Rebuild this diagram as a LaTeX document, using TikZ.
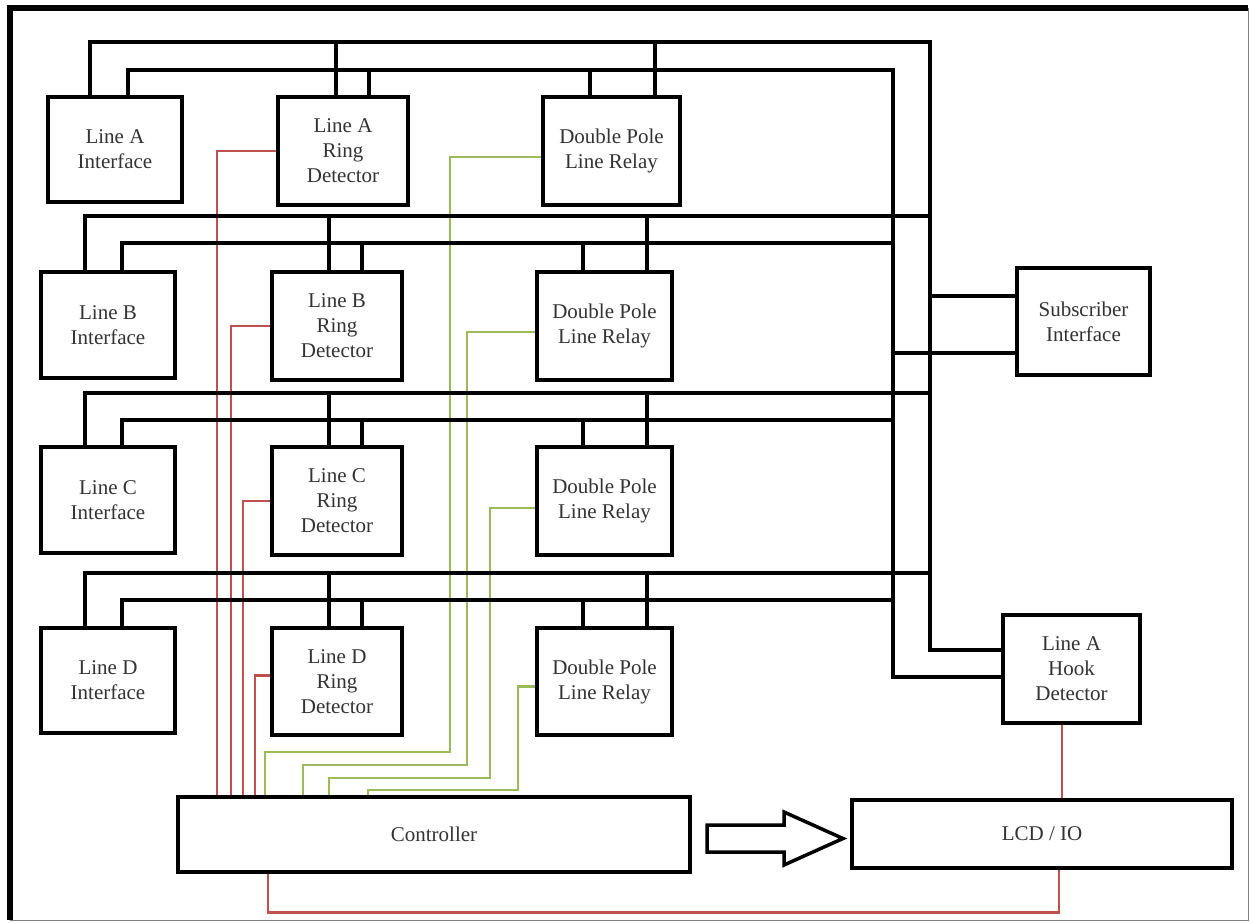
\documentclass[tikz,border=0pt]{standalone}
\usepackage{fontspec}
\setmainfont{Liberation Serif}
\definecolor{wred}{HTML}{C0504D}
\definecolor{wgrn}{HTML}{9BBB59}
\definecolor{txt}{HTML}{333333}
\pgfdeclarelayer{back}
\pgfdeclarelayer{wires}
\pgfsetlayers{back,wires,main}
\begin{document}
\begin{tikzpicture}[x=1pt,y=-1pt,
  box/.style={draw=black,line width=4.5pt,fill=white,align=center,inner sep=0pt,
    font=\fontsize{21}{25}\selectfont,text=txt},
  bus/.style={line width=4pt,draw=black},
  redw/.style={line width=2.8pt,draw=wred},
  grnw/.style={line width=2.8pt,draw=wgrn}]
\useasboundingbox (0,0) rectangle (1250,922);
\begin{pgfonlayer}{back}
\fill[white] (0,0) rectangle (1250,922);
\end{pgfonlayer}

% ---------- boxes ----------
\node[box,minimum width=134pt,minimum height=105pt] (ia) at (115,149.5) {Line A\\Interface};
\node[box,minimum width=130pt,minimum height=108pt] (ra) at (343,151) {Line A\\Ring\\Detector};
\node[box,minimum width=137pt,minimum height=108pt] (pa) at (611.5,151) {Double Pole\\Line Relay};

\node[box,minimum width=134pt,minimum height=106pt] (ib) at (108,325) {Line B\\Interface};
\node[box,minimum width=130pt,minimum height=108pt] (rb) at (337,326) {Line B\\Ring\\Detector};
\node[box,minimum width=135pt,minimum height=108pt] (pb) at (604.5,326) {Double Pole\\Line Relay};

\node[box,minimum width=134pt,minimum height=106pt] (ic) at (108,500) {Line C\\Interface};
\node[box,minimum width=130pt,minimum height=108pt] (rc) at (337,501) {Line C\\Ring\\Detector};
\node[box,minimum width=135pt,minimum height=108pt] (pc) at (604.5,501) {Double Pole\\Line Relay};

\node[box,minimum width=134pt,minimum height=105pt] (id) at (108,680.5) {Line D\\Interface};
\node[box,minimum width=130pt,minimum height=107pt] (rd) at (337,681.5) {Line D\\Ring\\Detector};
\node[box,minimum width=135pt,minimum height=107pt] (pd) at (604.5,681.5) {Double Pole\\Line Relay};

\node[box,minimum width=133pt,minimum height=107pt] (sub) at (1083.5,321.5) {Subscriber\\Interface};
\node[box,minimum width=137pt,minimum height=108pt] (hook) at (1071.5,669) {Line A\\Hook\\Detector};

\node[box,minimum width=512pt,minimum height=75pt] (ctrl) at (434,834.5) {Controller};
\node[box,minimum width=380pt,minimum height=68pt] (lcd) at (1042,834) {LCD / IO};

% hollow block arrow
\draw[line width=3.5pt,fill=white,line join=miter]
  (707,825) -- (784,825) -- (784,812) -- (843,838.5) -- (784,865) -- (784,852) -- (707,852) -- cycle;

% ---------- wires ----------
\begin{pgfonlayer}{wires}
% red control lines
\draw[redw] (ra.west) -| (217,797);
\draw[redw] (rb.west) -| (231,797);
\draw[redw] (rc.west) -| (243,797);
\draw[redw] ([yshift=6pt]rd.west) -| (255,797);
% green control lines
\draw[grnw] ([yshift=-6pt]pa.west) -| (450,752) -| (265,797);
\draw[grnw] ([yshift=-6pt]pb.west) -| (467,765) -| (303,797);
\draw[grnw] ([yshift=-7pt]pc.west) -| (490,778) -| (329,797);
\draw[grnw] ([yshift=-5pt]pd.west) -| (518,790) -| (368,797);
% hook detector / LCD / controller
\draw[redw] ([xshift=-9.5pt]hook.south) -- ([xshift=20pt]lcd.north);
\draw[redw] ([xshift=17pt]lcd.south) -- ++(0,42) -| ([xshift=-166pt]ctrl.south);

% black buses
\coordinate (a1) at (930,42);
\coordinate (a2) at (893,70);
\draw[bus] ([xshift=-25pt]ia.north) |- (a1) |- ([yshift=19pt]hook.west);
\draw[bus] ([xshift=13pt]ia.north) |- (a2) |- ([yshift=-8pt]hook.west);
\draw[bus] ([xshift=-7pt]ra.north) -- ++(0,-55);
\draw[bus] ([xshift=26pt]ra.north) -- ++(0,-27);
\draw[bus] ([xshift=-21.5pt]pa.north) -- ++(0,-27);
\draw[bus] ([xshift=43.5pt]pa.north) -- ++(0,-55);

\coordinate (b1) at (930,216);
\coordinate (b2) at (893,243);
\draw[bus] ([xshift=-23pt]ib.north) |- (b1);
\draw[bus] ([xshift=14pt]ib.north) |- (b2);
\draw[bus] ([xshift=-8pt]rb.north) -- ++(0,-56);
\draw[bus] ([xshift=25pt]rb.north) -- ++(0,-29);
\draw[bus] ([xshift=-21.5pt]pb.north) -- ++(0,-29);
\draw[bus] ([xshift=42.5pt]pb.north) -- ++(0,-56);

\coordinate (c1) at (930,393);
\coordinate (c2) at (893,420);
\draw[bus] ([xshift=-23pt]ic.north) |- (c1);
\draw[bus] ([xshift=14pt]ic.north) |- (c2);
\draw[bus] ([xshift=-8pt]rc.north) -- ++(0,-54);
\draw[bus] ([xshift=25pt]rc.north) -- ++(0,-27);
\draw[bus] ([xshift=-21.5pt]pc.north) -- ++(0,-27);
\draw[bus] ([xshift=42.5pt]pc.north) -- ++(0,-54);

\coordinate (d1) at (930,573);
\coordinate (d2) at (893,600);
\draw[bus] ([xshift=-23pt]id.north) |- (d1);
\draw[bus] ([xshift=14pt]id.north) |- (d2);
\draw[bus] ([xshift=-8pt]rd.north) -- ++(0,-55);
\draw[bus] ([xshift=25pt]rd.north) -- ++(0,-28);
\draw[bus] ([xshift=-21.5pt]pd.north) -- ++(0,-28);
\draw[bus] ([xshift=42.5pt]pd.north) -- ++(0,-55);

% subscriber interface
\coordinate (s1) at (930,296);
\coordinate (s2) at (893,353);
\draw[bus] (s1) -- (s1 -| sub.west);
\draw[bus] (s2) -- (s2 -| sub.west);
\end{pgfonlayer}

% ---------- frame ----------
\draw[line width=6pt] (10,920) -- (10,7.5) -- (1248,7.5);
\draw[line width=1pt,draw=gray] (1248,7.5) -- (1248,920) -- (10,920);
\end{tikzpicture}
\end{document}
